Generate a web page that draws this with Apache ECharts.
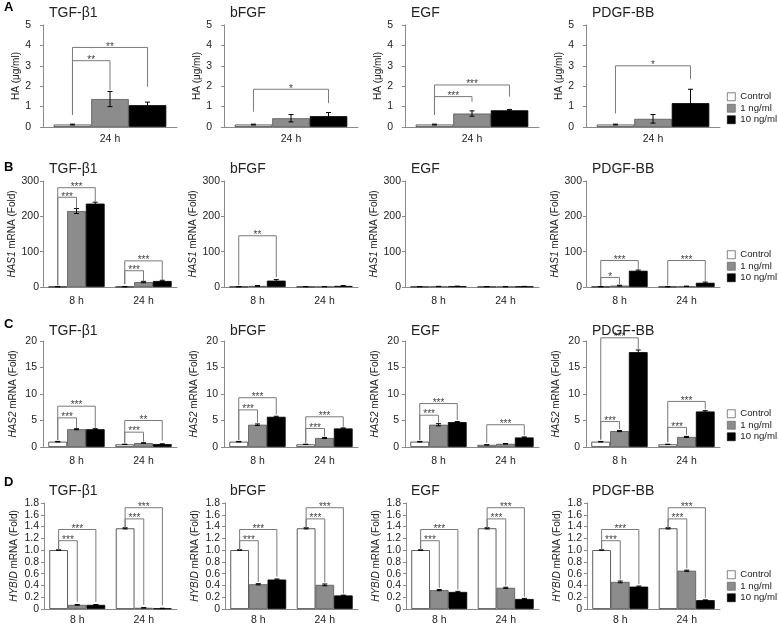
<!DOCTYPE html>
<html><head><meta charset="utf-8">
<script src="https://cdn.jsdelivr.net/npm/echarts@6/dist/echarts.min.js"></script>
<style>html,body{margin:0;padding:0;background:#fff}#c{width:778px;height:624px}</style>
</head><body><div id="c"></div>
<script>
// ---------- data ----------
const factorNames = ['TGF-β1', 'bFGF', 'EGF', 'PDGF-BB'];
const groupNames = ['Control', '1 ng/ml', '10 ng/ml'];
const panelLetters = ['A', 'B', 'C', 'D'];
const catsA = ['24 h'];
const catsBCD = ['8 h', '24 h'];
const yNames = ['HA (μg/ml)', '{i|HAS1} mRNA (Fold)', '{i|HAS2} mRNA (Fold)', '{i|HYBID} mRNA (Fold)'];
const yMaxes = [5, 300, 20, 1.8];
const yIntervals = [1, 100, 5, 0.2];

// means[factor][group][category]
const haMeans = [
  [[0.12], [1.37], [1.07]],
  [[0.12], [0.43], [0.53]],
  [[0.12], [0.66], [0.82]],
  [[0.12], [0.40], [1.17]]
];
const haErrs = [
  [[0.02], [0.37], [0.15]],
  [[0.02], [0.18], [0.18]],
  [[0.02], [0.13], [0.04]],
  [[0.02], [0.21], [0.68]]
];
// significance: [category, fromBar, toBar, level, leftLegEnd, rightLegEnd, stars]
const haSig = [
  [[0, 0, 1, 3.25, 0.6, 1.8, 2], [0, 0, 2, 3.9, 0.6, 1.97, 2]],
  [[0, 0, 2, 1.85, 0.75, 1.17, 1]],
  [[0, 0, 1, 1.49, 0.59, 1.24, 3], [0, 0, 2, 2.06, 0.59, 1.49, 3]],
  [[0, 0, 2, 3.0, 0.67, 2.34, 1]]
];

const has1Means = [
  [[1, 1], [215, 14], [236, 17]],
  [[1, 1], [3, 1], [18, 3]],
  [[1, 1], [1.5, 1], [2, 1.5]],
  [[1, 1], [4, 2], [46, 12]]
];
const has1Errs = [
  [[0.5, 0.5], [7, 2], [4, 2]],
  [[0.3, 0.3], [1, 0.3], [3, 1]],
  [[0.3, 0.3], [0.3, 0.3], [0.3, 0.3]],
  [[0.3, 0.3], [1, 0.5], [2, 2]]
];
const has1Sig = [
  [[0, 0, 1, 254, 5, 222, 3], [0, 0, 2, 281, 5, 240, 3], [1, 0, 1, 46, 8, 16, 3], [1, 0, 2, 74, 8, 19, 3]],
  [[0, 0, 2, 145, 5, 28, 2]],
  [],
  [[0, 0, 1, 27, 3, 8, 1], [0, 0, 2, 75, 3, 50, 3], [1, 0, 2, 75, 4, 16, 3]]
];

const has2Means = [
  [[1.0, 0.5], [3.35, 0.75], [3.35, 0.55]],
  [[1.0, 0.5], [4.2, 1.7], [5.7, 3.5]],
  [[1.0, 0.4], [4.2, 0.6], [4.7, 1.8]],
  [[1.0, 0.5], [3.0, 1.9], [17.9, 6.7]]
];
const has2Errs = [
  [[0.05, 0.03], [0.1, 0.05], [0.1, 0.05]],
  [[0.05, 0.03], [0.15, 0.1], [0.1, 0.1]],
  [[0.05, 0.03], [0.2, 0.05], [0.1, 0.1]],
  [[0.05, 0.03], [0.1, 0.1], [0.4, 0.15]]
];
const has2Sig = [
  [[0, 0, 1, 5.5, 1.3, 3.6, 3], [0, 0, 2, 7.7, 1.3, 3.6, 3], [1, 0, 1, 2.8, 0.8, 1.0, 3], [1, 0, 2, 5.0, 0.8, 1.2, 2]],
  [[0, 0, 1, 7.0, 1.3, 4.6, 3], [0, 0, 2, 9.3, 1.3, 6.1, 3], [1, 0, 1, 3.5, 0.8, 2.0, 3], [1, 0, 2, 5.7, 0.8, 3.8, 3]],
  [[0, 0, 1, 6.0, 1.3, 4.6, 3], [0, 0, 2, 8.2, 1.3, 5.1, 3], [1, 0, 2, 4.2, 0.8, 2.2, 3]],
  [[0, 0, 1, 4.8, 1.4, 3.4, 3], [0, 0, 2, 20.6, 1.4, 18.5, 3], [1, 0, 1, 3.7, 0.9, 2.3, 3], [1, 0, 2, 8.6, 0.9, 7.1, 3]]
];

const hybidMeans = [
  [[1.0, 1.37], [0.07, 0.02], [0.07, 0.01]],
  [[1.0, 1.37], [0.42, 0.41], [0.50, 0.23]],
  [[1.0, 1.37], [0.32, 0.36], [0.29, 0.17]],
  [[1.0, 1.37], [0.46, 0.65], [0.38, 0.15]]
];
const hybidErrs = [
  [[0.005, 0.01], [0.005, 0.003], [0.005, 0.003]],
  [[0.005, 0.01], [0.01, 0.015], [0.01, 0.005]],
  [[0.005, 0.01], [0.01, 0.01], [0.01, 0.01]],
  [[0.005, 0.01], [0.015, 0.01], [0.01, 0.005]]
];
const hybidSig = [
  [[0, 0, 1, 1.16, 1.0, 0.12, 3], [0, 0, 2, 1.35, 1.0, 0.12, 3], [1, 0, 1, 1.53, 1.38, 0.07, 3], [1, 0, 2, 1.72, 1.38, 0.06, 3]],
  [[0, 0, 1, 1.16, 1.0, 0.46, 3], [0, 0, 2, 1.35, 1.0, 0.55, 3], [1, 0, 1, 1.53, 1.38, 0.45, 3], [1, 0, 2, 1.72, 1.38, 0.26, 3]],
  [[0, 0, 1, 1.16, 1.0, 0.36, 3], [0, 0, 2, 1.35, 1.0, 0.33, 3], [1, 0, 1, 1.53, 1.38, 0.40, 3], [1, 0, 2, 1.72, 1.38, 0.21, 3]],
  [[0, 0, 1, 1.16, 1.0, 0.50, 3], [0, 0, 2, 1.35, 1.0, 0.42, 3], [1, 0, 1, 1.53, 1.38, 0.69, 3], [1, 0, 2, 1.72, 1.38, 0.19, 3]]
];

// ---------- layout / style ----------
const rows = [
  { cats: catsA, means: haMeans, errs: haErrs, sig: haSig },
  { cats: catsBCD, means: has1Means, errs: has1Errs, sig: has1Sig },
  { cats: catsBCD, means: has2Means, errs: has2Errs, sig: has2Sig },
  { cats: catsBCD, means: hybidMeans, errs: hybidErrs, sig: hybidSig }
];
const colLeft = [43, 224, 405, 586];
const rowTop = [25, 181, 341, 503];
const rowH = [102, 106, 106, 106];
const plotW = 134;
const titleTop = [6, 162, 324, 484];
const letterTop = [1, 161, 318, 476];
const legendTop = [91, 249, 408, 569];
const labelMargin = [12, 4, 6, 5];
const xLabelMargin = [7, 9, 9, 6];
const nameGaps = [22, 25, 25, 25];
const BARW = 0.28;
const axisColor = '#8a8a8a';
const textColor = '#222';
const FONT = 'Liberation Sans';
const barStyles = [
  { color: '#ffffff', borderColor: '#333', borderWidth: 0.8 },
  { color: '#8c8c8c', borderColor: '#555', borderWidth: 0.8 },
  { color: '#000000', borderColor: '#000', borderWidth: 0.8 }
];

function renderErr(params, api) {
  const cat = api.value(0), g = api.value(1), v = api.value(2), e = api.value(3);
  const band = api.size([1, 0])[0];
  const bw = band * BARW;
  const c = api.coord([cat, v]);
  const x = c[0] + (g - 1) * bw;
  const top = api.coord([cat, v + e])[1];
  const bot = api.coord([cat, Math.max(v - e, 0)])[1];
  const cap = 2.5;
  const st = { stroke: '#000', lineWidth: 1 };
  return { type: 'group', children: [
    { type: 'line', shape: { x1: x, y1: top, x2: x, y2: bot }, style: st },
    { type: 'line', shape: { x1: x - cap, y1: top, x2: x + cap, y2: top }, style: st },
    { type: 'line', shape: { x1: x - cap, y1: bot, x2: x + cap, y2: bot }, style: st }
  ]};
}

function renderSig(params, api) {
  const cat = api.value(0), a = api.value(1), b = api.value(2), lvl = api.value(3);
  const le = api.value(4), re = api.value(5), n = api.value(6);
  const band = api.size([1, 0])[0];
  const bw = band * BARW;
  const c = api.coord([cat, lvl]);
  const xa = c[0] + (a - 1) * bw, xb = c[0] + (b - 1) * bw;
  const y = c[1];
  const ya = api.coord([cat, le])[1], yb = api.coord([cat, re])[1];
  return { type: 'group', children: [
    { type: 'polyline', shape: { points: [[xa, ya], [xa, y], [xb, y], [xb, yb]] },
      style: { stroke: '#7a7a7a', fill: null, lineWidth: 1 } },
    { type: 'text', x: (xa + xb) / 2, y: y - 0.5,
      style: { text: '*'.repeat(n), align: 'center', verticalAlign: 'middle',
               font: '10px ' + FONT, fill: '#444' } }
  ]};
}

const grids = [], xAxes = [], yAxes = [], series = [], titles = [], legends = [];
rows.forEach((r, ri) => {
  factorNames.forEach((f, fi) => {
    const gi = grids.length;
    grids.push({ left: colLeft[fi] + (ri === 3 ? 1 : 0), top: rowTop[ri], width: plotW - (ri === 3 ? 1 : 0),
                 height: rowH[ri], containLabel: false, outerBoundsMode: 'none' });
    xAxes.push({ type: 'category', gridIndex: gi, data: r.cats,
      axisTick: { show: false },
      axisLine: { show: true, lineStyle: { color: axisColor, width: 1 } },
      axisLabel: { color: textColor, fontSize: 10.5, margin: xLabelMargin[ri], fontFamily: FONT } });
    yAxes.push({ type: 'value', gridIndex: gi, min: 0, max: yMaxes[ri], interval: yIntervals[ri],
      name: yNames[ri], nameLocation: 'middle', nameRotate: 90, nameGap: nameGaps[ri],
      nameTextStyle: { color: textColor, fontSize: 10, fontFamily: FONT,
        rich: { i: { fontStyle: 'italic', fontSize: 10, color: textColor, fontFamily: FONT } } },
      splitLine: { show: false },
      axisLine: { show: true, lineStyle: { color: axisColor, width: 1 } },
      axisTick: { show: true, length: 3, lineStyle: { color: axisColor } },
      axisLabel: { color: textColor, fontSize: 10.5, margin: labelMargin[ri], fontFamily: FONT,
        formatter: ri === 3 ? (v => v === 0 ? '0' : v.toFixed(1)) : (v => String(v)) } });
    groupNames.forEach((g, k) => {
      series.push({ type: 'bar', name: g, xAxisIndex: gi, yAxisIndex: gi,
        data: r.means[fi][k], barWidth: (BARW * 100) + '%', barGap: '0%',
        itemStyle: barStyles[k], silent: true });
    });
    const errData = [];
    r.cats.forEach((c, ci) => {
      groupNames.forEach((g, k) => {
        errData.push([ci, k, r.means[fi][k][ci], r.errs[fi][k][ci]]);
      });
    });
    series.push({ type: 'custom', xAxisIndex: gi, yAxisIndex: gi, renderItem: renderErr,
      data: errData, encode: { x: 0, y: 2 }, clip: false, silent: true, z: 3 });
    series.push({ type: 'custom', xAxisIndex: gi, yAxisIndex: gi, renderItem: renderSig,
      data: r.sig[fi], encode: { x: 0, y: 3 }, clip: false, silent: true, z: 3 });
    titles.push({ text: f, left: colLeft[fi] + 6, top: titleTop[ri], padding: 0,
      textStyle: { fontSize: 14, fontWeight: 'normal', color: textColor, fontFamily: FONT } });
  });
  titles.push({ text: panelLetters[ri], left: 4, top: letterTop[ri], padding: 0,
    textStyle: { fontSize: 13, fontWeight: 'bold', color: '#000', fontFamily: FONT } });
  legends.push({ data: groupNames, orient: 'vertical', left: 727, top: legendTop[ri], padding: 0,
    icon: 'rect', itemWidth: 8, itemHeight: 8, itemGap: 0, selectedMode: false,
    itemStyle: { borderWidth: 0.6 },
    textStyle: { fontSize: 9.6, color: textColor, fontFamily: FONT, lineHeight: 11.5 } });
});

const chart = echarts.init(document.getElementById('c'), null, { renderer: 'canvas' });
chart.setOption({
  animation: false,
  backgroundColor: '#fff',
  textStyle: { fontFamily: FONT },
  title: titles, legend: legends, grid: grids, xAxis: xAxes, yAxis: yAxes, series: series
});
</script></body></html>
